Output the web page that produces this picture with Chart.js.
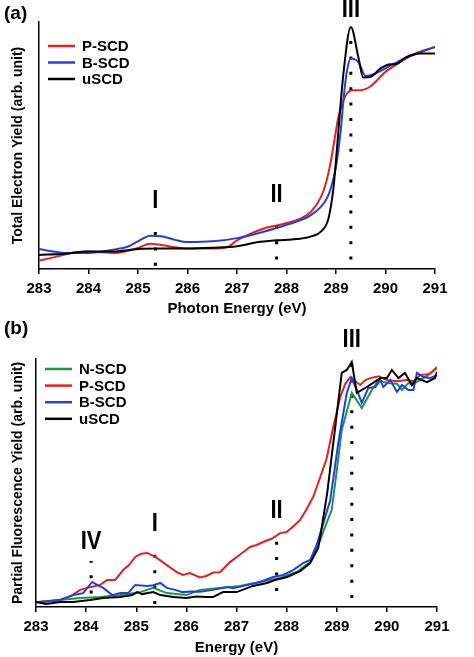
<!DOCTYPE html>
<html>
<head>
<meta charset="utf-8">
<script src="https://cdn.jsdelivr.net/npm/chart.js@4.4.0/dist/chart.umd.min.js"></script>
<style>
  body { margin: 0; background: #fff; }
  .panel { position: absolute; left: 0; }
</style>
</head>
<body>
<div class="panel" style="top:0"><canvas id="chartA" width="474" height="318"></canvas></div>
<div class="panel" style="top:318px"><canvas id="chartB" width="474" height="339"></canvas></div>
<script>
// ---- (a) total electron yield ----
const teyP_E = [283.0,283.25,283.5,283.75,284.0,284.25,284.5,284.75,285.0,285.25,285.5,285.75,286.0,286.5,286.8,287.0,287.3,287.6,287.8,288.0,288.3,288.5,288.7,288.8,288.9,289.0,289.05,289.2,289.35,289.5,289.7,290.0,290.3,290.6,291.0];
const teyP   = [0.034,0.045,0.058,0.068,0.071,0.068,0.065,0.072,0.085,0.102,0.096,0.088,0.083,0.083,0.088,0.116,0.145,0.168,0.176,0.186,0.206,0.233,0.293,0.35,0.441,0.56,0.616,0.704,0.724,0.724,0.740,0.798,0.838,0.872,0.899];
const teyB_E = [283.0,283.25,283.5,284.0,284.5,284.8,285.0,285.25,285.5,285.75,286.0,286.5,287.0,287.5,288.0,288.5,288.8,288.9,289.0,289.1,289.15,289.22,289.3,289.45,289.6,289.8,290.0,290.3,290.6,291.0];
const teyB   = [0.081,0.072,0.065,0.065,0.078,0.091,0.112,0.135,0.132,0.118,0.109,0.112,0.125,0.149,0.179,0.219,0.280,0.33,0.415,0.57,0.684,0.80,0.852,0.838,0.781,0.792,0.812,0.845,0.869,0.899];
const teyU_E = [283.0,283.5,284.0,284.5,285.0,285.5,286.0,286.5,287.0,287.4,287.8,288.2,288.5,288.7,288.85,288.95,289.0,289.15,289.3,289.45,289.55,289.7,289.9,290.1,290.2,290.4,290.7,291.0];
const teyU   = [0.057,0.062,0.071,0.071,0.081,0.083,0.083,0.086,0.092,0.108,0.116,0.121,0.132,0.152,0.206,0.33,0.441,0.791,0.980,0.859,0.775,0.778,0.812,0.829,0.829,0.856,0.872,0.872];

// ---- (b) partial fluorescence yield ----
const pfyN_E = [283.0,283.48,283.88,284.28,284.68,285.08,285.34,285.61,286.0,286.27,286.67,287.07,287.47,287.87,288.2,288.47,288.6,288.67,288.78,288.9,289.0,289.1,289.3,289.5,289.7,289.83,290.0,290.2,290.3,290.43,290.53,290.66,290.82,291.0];
const pfyN   = [0.019,0.028,0.036,0.04,0.048,0.06,0.077,0.056,0.048,0.069,0.077,0.085,0.101,0.117,0.141,0.181,0.242,0.27,0.33,0.391,0.55,0.714,0.863,0.802,0.875,0.915,0.903,0.9,0.875,0.903,0.9,0.915,0.935,0.968];
const pfyP_E = [283.0,283.2,283.48,283.7,283.88,284.08,284.28,284.42,284.58,284.74,284.86,284.98,285.1,285.22,285.38,285.5,285.61,285.81,285.93,286.07,286.27,286.4,286.53,286.67,286.87,287.07,287.27,287.4,287.53,287.7,287.87,288.0,288.13,288.27,288.4,288.53,288.63,288.8,288.93,289.07,289.17,289.27,289.37,289.47,289.57,289.67,289.84,290.0,290.2,290.4,290.53,290.66,290.86,291.0];
const pfyP   = [0.019,0.022,0.028,0.045,0.069,0.08,0.089,0.109,0.109,0.149,0.17,0.202,0.215,0.218,0.202,0.185,0.169,0.141,0.129,0.137,0.119,0.125,0.139,0.14,0.181,0.212,0.242,0.25,0.262,0.275,0.298,0.302,0.325,0.351,0.395,0.444,0.5,0.6,0.726,0.847,0.9,0.927,0.91,0.895,0.915,0.923,0.93,0.915,0.91,0.915,0.91,0.935,0.94,0.964];
const pfyB_E = [283.0,283.48,283.74,283.94,284.12,284.22,284.34,284.52,284.68,284.84,284.98,285.22,285.34,285.48,285.61,285.77,285.93,286.1,286.27,286.53,286.81,286.93,287.21,287.47,287.73,287.93,288.13,288.33,288.47,288.6,288.72,288.87,289.03,289.2,289.3,289.4,289.5,289.63,289.77,289.87,289.93,290.07,290.2,290.3,290.43,290.53,290.6,290.73,290.86,291.0];
const pfyB   = [0.019,0.028,0.048,0.056,0.101,0.089,0.077,0.048,0.056,0.056,0.089,0.085,0.088,0.097,0.077,0.069,0.06,0.062,0.061,0.069,0.081,0.076,0.089,0.101,0.121,0.129,0.149,0.177,0.19,0.25,0.33,0.43,0.661,0.863,0.923,0.875,0.823,0.883,0.887,0.915,0.887,0.915,0.867,0.895,0.875,0.875,0.944,0.927,0.923,0.935];
const pfyU_E = [283.0,283.2,283.48,283.74,284.08,284.34,284.68,284.92,285.02,285.12,285.34,285.48,285.74,286.0,286.2,286.4,286.53,286.73,287.0,287.33,287.61,287.77,288.01,288.27,288.47,288.63,288.67,288.81,288.97,289.1,289.2,289.3,289.4,289.6,289.87,290.0,290.1,290.23,290.36,290.5,290.6,290.8,290.96,291.0];
const pfyU   = [0.02,0.012,0.02,0.02,0.028,0.036,0.04,0.048,0.06,0.052,0.06,0.048,0.04,0.036,0.042,0.04,0.04,0.06,0.06,0.085,0.097,0.109,0.121,0.145,0.177,0.238,0.282,0.46,0.726,0.944,0.956,0.988,0.863,0.887,0.923,0.923,0.956,0.923,0.944,0.895,0.923,0.907,0.923,0.948];

// peak markers (dotted lines): energy, label, bottom and top value
const markA_E  = [285.35, 287.8, 289.3];
const markA_T  = ['I', 'II', 'III'];
const markA_lo = [0.013, 0.038, 0.038];
const markA_hi = [0.20, 0.223, 0.97];
const markB_E  = [284.1, 285.37, 287.8, 289.3];
const markB_T  = ['IV', 'I', 'II', 'III'];
const markB_lo = [0.054, 0.012, 0.065, 0.036];
const markB_hi = [0.185, 0.258, 0.31, 1.0];

const xTicks = [283, 284, 285, 286, 287, 288, 289, 290, 291];

const RED = '#e5201e', BLUE = '#2040e6', GREEN = '#169a48', BLACK = '#000';
const FONT = '"Liberation Sans", Arial, Helvetica, sans-serif';

function pts(xs, ys) { return xs.map((x, i) => ({ x: x, y: ys[i] })); }

function series(label, xs, ys, color, order, smooth) {
  return {
    label: label, data: pts(xs, ys), borderColor: color, borderWidth: 2,
    pointRadius: 0, fill: false, order: order,
    tension: smooth ? 0.4 : 0, cubicInterpolationMode: smooth ? 'monotone' : 'default'
  };
}

function markers(xs, lo, hi) {
  return xs.map((x, i) => ({
    label: '', data: [{ x: x, y: lo[i] }, { x: x, y: hi[i] }],
    borderColor: BLACK, borderWidth: 3, borderDash: [3, 12.4], borderCapStyle: 'butt',
    pointRadius: 0, order: 10, clip: false, isMarker: true
  }));
}

const decor = {
  id: 'decor',
  afterDraw(chart, args, o) {
    const ctx = chart.ctx;
    const xs = chart.scales.x, ys = chart.scales.y;
    ctx.save();
    ctx.fillStyle = '#000';
    // panel label
    ctx.font = 'bold 19px ' + FONT;
    ctx.textAlign = 'left';
    ctx.textBaseline = 'alphabetic';
    ctx.fillText(o.panel, o.panelX, o.panelY);
    // roman numerals above the dotted lines
    ctx.font = 'bold 25px ' + FONT;
    ctx.textAlign = 'center';
    o.markE.forEach((e, i) => {
      const px = xs.getPixelForValue(e);
      const py = ys.getPixelForValue(o.markHi[i]) - 12;
      ctx.save();
      ctx.translate(px, py);
      ctx.scale(0.88, 1);
      ctx.fillText(o.markT[i], 0, 0);
      ctx.restore();
    });
    // legend
    ctx.font = 'bold 15px ' + FONT;
    ctx.textAlign = 'left';
    ctx.textBaseline = 'middle';
    const items = chart.data.datasets.filter(d => !d.isMarker);
    o.legendOrder.forEach((name, i) => {
      const d = items.find(s => s.label === name);
      const y = o.legY + i * o.legGap;
      ctx.strokeStyle = d.borderColor;
      ctx.lineWidth = 2.5;
      ctx.beginPath();
      ctx.moveTo(o.legX, y);
      ctx.lineTo(o.legX + 27, y);
      ctx.stroke();
      ctx.fillText(d.label, o.legX + 34, y + 1);
    });
    ctx.restore();
  }
};

function makeOptions(cfg) {
  return {
    responsive: false,
    animation: false,
    layout: { padding: { left: 0, right: cfg.right, top: cfg.top, bottom: 0 } },
    plugins: { legend: { display: false }, tooltip: { enabled: false }, decor: cfg.decor },
    scales: {
      x: {
        type: 'linear', min: 283, max: 291,
        afterBuildTicks: s => { s.ticks = xTicks.map(v => ({ value: v })); },
        afterFit: s => { s.height = cfg.xh; },
        grid: { display: true, drawOnChartArea: false, drawTicks: true, tickLength: 5, color: '#000', lineWidth: 1.5 },
        border: { display: true, color: '#000', width: 1.5 },
        ticks: { color: '#000', padding: 6, font: { family: FONT, size: 15, weight: 'bold' }, maxRotation: 0 },
        title: { display: true, text: cfg.xTitle, color: '#000', padding: { top: cfg.xtp, bottom: 0 },
                 font: { family: FONT, size: 15, weight: 'bold' } }
      },
      y: {
        type: 'linear', min: 0, max: 1,
        afterFit: s => { s.width = cfg.yw; },
        grid: { display: false },
        border: { display: true, color: '#000', width: 1.5 },
        ticks: { display: false },
        title: { display: true, text: cfg.yTitle, color: '#000', padding: { top: 10, bottom: 0 },
                 font: { family: FONT, size: 14, weight: 'bold' } }
      }
    }
  };
}

new Chart(document.getElementById('chartA'), {
  type: 'line',
  data: {
    datasets: [
      series('uSCD', teyU_E, teyU, BLACK, 1, true),
      series('B-SCD', teyB_E, teyB, BLUE, 2, true),
      series('P-SCD', teyP_E, teyP, RED, 3, true)
    ].concat(markers(markA_E, markA_lo, markA_hi))
  },
  options: makeOptions({
    right: 39, top: 22, xh: 49, yw: 39, xtp: 1,
    xTitle: 'Photon Energy (eV)', yTitle: 'Total Electron Yield (arb. unit)',
    decor: { panel: '(a)', panelX: 4, panelY: 19, markE: markA_E, markT: markA_T, markHi: markA_hi,
             legendOrder: ['P-SCD', 'B-SCD', 'uSCD'], legX: 48, legY: 46, legGap: 16.5 }
  }),
  plugins: [decor]
});

new Chart(document.getElementById('chartB'), {
  type: 'line',
  data: {
    datasets: [
      series('uSCD', pfyU_E, pfyU, BLACK, 1, false),
      series('B-SCD', pfyB_E, pfyB, BLUE, 2, false),
      series('P-SCD', pfyP_E, pfyP, RED, 3, false),
      series('N-SCD', pfyN_E, pfyN, GREEN, 4, false)
    ].concat(markers(markB_E, markB_lo, markB_hi))
  },
  options: makeOptions({
    right: 37, top: 41, xh: 50, yw: 36, xtp: 0,
    xTitle: 'Energy (eV)', yTitle: 'Partial Fluorescence Yield (arb. unit)',
    decor: { panel: '(b)', panelX: 4, panelY: 16, markE: markB_E, markT: markB_T, markHi: markB_hi,
             legendOrder: ['N-SCD', 'P-SCD', 'B-SCD', 'uSCD'], legX: 45, legY: 51, legGap: 16.6 }
  }),
  plugins: [decor]
});
</script>
</body>
</html>
